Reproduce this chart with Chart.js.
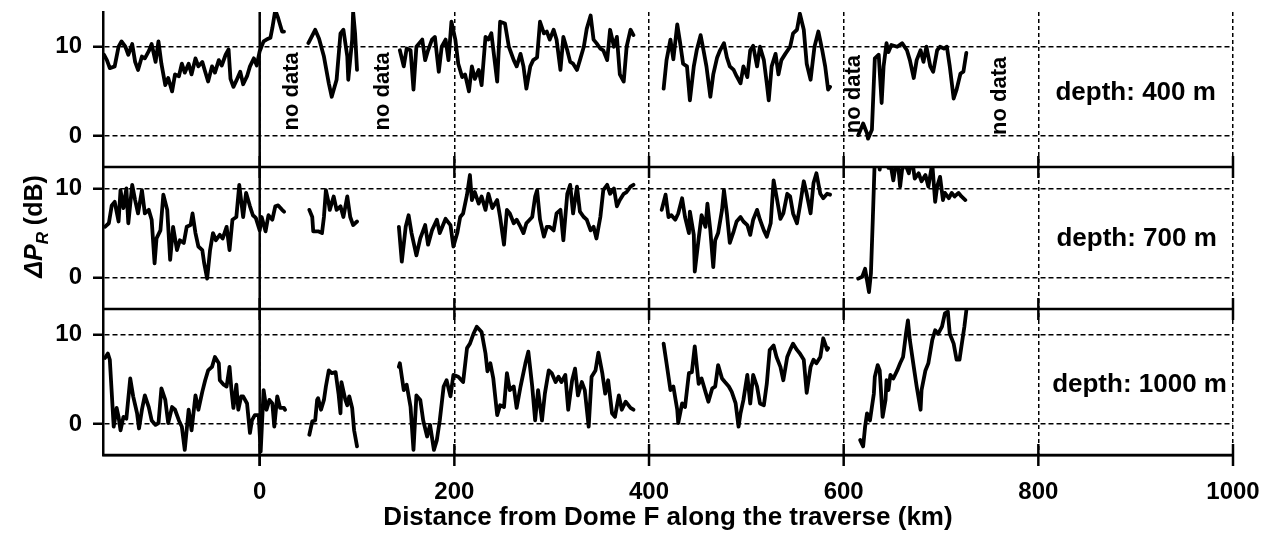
<!DOCTYPE html>
<html>
<head>
<meta charset="utf-8">
<title>Radar power along the Dome F traverse</title>
<script src="https://cdn.jsdelivr.net/npm/chart.js@4.4.1/dist/chart.umd.min.js"></script>
<style>
    html, body { margin: 0; padding: 0; background: #fff; }
    #wrap { width: 1276px; height: 533px; }
</style>
</head>
<body>
<div id="wrap"><canvas id="dprChart" width="1276" height="533"></canvas></div>
<script>
const FONT = '"Liberation Sans", Arial, Helvetica, sans-serif';

// distance (km), ΔP_R (dB); [km, null] marks a data gap
const trace400 = [
    [-160, 9.1], [-157, 8.5], [-154, 7.6], [-149, 7.8], [-145, 10.0], [-142, 10.6], [-138, 10.0], [-135, 9.1],
    [-131, 10.3], [-128, 8.3], [-125, 7.4], [-121, 8.9], [-118, 8.7], [-114, 9.5], [-111, 10.3], [-107, 8.3],
    [-104, 10.6], [-101, 8.1], [-97, 5.7], [-94, 6.5], [-90, 5.0], [-87, 6.9], [-83, 6.7], [-80, 8.1],
    [-77, 7.1], [-73, 8.1], [-70, 6.9], [-66, 8.7], [-63, 7.8], [-59, 8.3], [-56, 7.2], [-53, 6.1],
    [-49, 7.8], [-46, 7.1], [-42, 8.5], [-39, 7.9], [-35, 9.1], [-32, 9.7], [-30, 6.4], [-27, 5.5],
    [-24, 6.2], [-20, 7.2], [-17, 5.8], [-13, 6.7], [-10, 7.8], [-6, 8.7], [-3, 7.9], [0, 9.5],
    [4, 10.6], [7, 10.8], [11, 11.0], [13, 12.1], [16, 14.1], [19, 13.2], [23, 11.7], [25, 11.7],
    [38, null],
    [50, 10.4], [57, 11.9], [61, 10.9], [66, 8.9], [71, 5.9], [74, 4.4], [79, 6.3], [83, 11.5],
    [86, 11.9], [90, 8.9], [91, 6.3], [95, 10.8], [96, 13.9], [98, 11.5], [100, 7.4],
    [122, null],
    [144, 9.6], [148, 7.8], [151, 9.8], [155, 9.6], [158, 5.2], [161, 10.0], [167, 10.8], [170, 8.5],
    [173, 9.6], [177, 10.8], [180, 11.1], [184, 7.2], [187, 10.0], [191, 10.8], [194, 8.5], [197, 12.8],
    [201, 10.8], [204, 8.1], [208, 6.6], [211, 6.9], [215, 5.0], [218, 7.8], [221, 6.4], [225, 7.4],
    [228, 5.7], [232, 11.1], [235, 10.8], [238, 11.5], [244, 6.1], [247, 12.8], [252, 12.6], [256, 10.0],
    [261, 8.5], [264, 7.8], [268, 9.2], [271, 7.8], [274, 5.3], [278, 7.8], [281, 8.5], [285, 8.8],
    [288, 12.8], [292, 11.5], [295, 11.7], [298, 10.8], [302, 11.9], [305, 10.8], [309, 7.4], [312, 11.1],
    [316, 9.6], [319, 8.3], [322, 8.1], [326, 7.4], [329, 8.5], [333, 10.0], [336, 12.0], [340, 13.5],
    [343, 10.8], [346, 10.4], [350, 9.8], [353, 9.6], [357, 8.5], [360, 11.9], [364, 10.0], [367, 11.1],
    [370, 6.9], [374, 6.1], [377, 10.0], [381, 11.9], [384, 11.3],
    [400, null],
    [415, 5.3], [418, 8.5], [422, 10.8], [425, 8.6], [429, 12.5], [432, 10.4], [435, 8.1], [439, 7.8],
    [442, 4.0], [446, 7.8], [449, 9.6], [453, 11.3], [456, 9.6], [459, 7.8], [463, 4.4], [466, 6.9],
    [470, 8.8], [473, 9.6], [477, 10.4], [480, 8.8], [483, 7.8], [487, 7.4], [490, 6.7], [494, 5.9],
    [497, 7.8], [501, 6.6], [504, 9.6], [507, 10.1], [511, 7.8], [514, 10.0], [518, 8.5], [521, 5.9],
    [523, 4.0], [526, 7.8], [530, 9.2], [533, 6.9], [536, 8.5], [540, 9.2], [545, 10.0], [548, 11.5],
    [552, 11.9], [555, 13.7], [559, 11.9], [562, 8.1], [566, 6.3], [570, 10.0], [574, 11.7], [578, 9.6],
    [581, 7.8], [584, 5.2], [586, 5.5],
    [600, null],
    [615, 0.1], [620, 1.4], [624, 0.3], [625, -0.3], [629, 0.7], [632, 8.7], [636, 9.1], [639, 3.7],
    [641, 7.8], [644, 10.4], [646, 9.4], [649, 10.2], [655, 10.0], [660, 10.4], [665, 9.6], [668, 8.5],
    [672, 6.5], [675, 8.5], [679, 9.6], [682, 8.3], [685, 10.0], [689, 7.8], [692, 7.2], [696, 9.6],
    [699, 10.0], [703, 9.8], [706, 10.0], [709, 7.8], [713, 4.2], [716, 5.2], [720, 7.0], [723, 7.2],
    [726, 9.3],
];

const trace700 = [
    [-159, 5.7], [-155, 6.1], [-152, 8.1], [-149, 8.5], [-145, 6.3], [-143, 9.8], [-140, 7.8], [-137, 10.0],
    [-135, 6.1], [-131, 10.4], [-128, 8.7], [-125, 7.2], [-121, 9.8], [-118, 7.2], [-114, 7.6], [-111, 6.5],
    [-108, 1.6], [-106, 4.4], [-102, 5.3], [-99, 9.3], [-95, 7.6], [-92, 2.0], [-89, 5.7], [-85, 3.1],
    [-82, 4.2], [-78, 3.9], [-75, 5.7], [-71, 5.9], [-69, 7.2], [-66, 5.0], [-63, 3.5], [-59, 3.1],
    [-57, 1.6], [-54, -0.1], [-51, 3.1], [-48, 5.0], [-45, 4.2], [-41, 4.8], [-38, 4.4], [-34, 5.7],
    [-31, 3.1], [-28, 6.5], [-24, 6.8], [-21, 10.4], [-17, 6.8], [-14, 9.5], [-10, 8.0], [-7, 7.0],
    [-4, 6.7], [0, 5.3], [2, 6.8], [6, 5.2], [9, 7.0], [13, 6.5], [16, 8.0], [19, 8.1],
    [23, 7.6], [25, 7.4],
    [38, null],
    [51, 7.6], [54, 6.8], [55, 5.2], [60, 5.2], [64, 5.0], [66, 6.8], [68, 9.8], [71, 8.3],
    [72, 7.6], [76, 9.1], [79, 7.6], [83, 8.0], [86, 6.8], [90, 9.1], [93, 6.8], [96, 5.9], [100, 6.3],
    [122, null],
    [143, 5.7], [146, 1.8], [150, 5.7], [153, 7.0], [156, 5.0], [161, 2.5], [165, 4.4], [170, 5.9],
    [173, 3.7], [177, 5.3], [182, 6.5], [185, 5.0], [191, 6.6], [196, 5.9], [199, 3.5], [203, 5.0],
    [206, 6.8], [209, 7.2], [213, 9.3], [216, 11.5], [218, 8.7], [221, 9.6], [225, 8.3], [228, 9.1],
    [232, 7.6], [235, 9.4], [239, 7.8], [244, 8.7], [247, 6.8], [251, 3.7], [254, 7.6], [257, 7.2],
    [261, 6.1], [264, 6.5], [268, 5.7], [271, 5.0], [274, 6.1], [280, 6.8], [283, 9.1], [285, 9.8],
    [288, 6.5], [292, 4.6], [295, 5.7], [298, 5.7], [302, 5.3], [305, 7.2], [309, 7.6], [312, 4.2],
    [316, 9.4], [319, 10.4], [322, 7.2], [326, 10.2], [329, 7.4], [333, 6.8], [336, 6.5], [340, 5.3],
    [343, 5.7], [346, 4.4], [350, 6.8], [353, 9.8], [357, 10.4], [360, 9.4], [364, 10.0], [367, 8.0],
    [370, 8.7], [374, 9.4], [377, 9.6], [381, 10.2], [384, 10.4],
    [400, null],
    [413, 7.6], [417, 9.3], [420, 6.8], [423, 7.0], [427, 6.5], [430, 7.2], [434, 8.9], [437, 6.8],
    [441, 5.0], [442, 7.4], [446, 4.8], [447, 0.7], [451, 4.4], [454, 7.0], [458, 5.7], [460, 8.3],
    [463, 5.3], [466, 1.2], [468, 4.2], [471, 5.0], [475, 7.6], [477, 9.8], [480, 7.2], [483, 3.9],
    [487, 5.2], [490, 6.3], [494, 6.8], [497, 6.3], [501, 5.9], [504, 4.8], [507, 6.5], [511, 7.6],
    [514, 6.5], [518, 5.3], [521, 4.6], [525, 6.1], [528, 10.9], [531, 9.1], [535, 6.6], [538, 7.2],
    [542, 9.4], [545, 9.1], [548, 7.2], [552, 6.1], [555, 8.0], [559, 10.8], [562, 9.4], [566, 7.2],
    [569, 10.6], [572, 11.7], [576, 9.4], [579, 8.9], [583, 9.4], [586, 9.3],
    [600, null],
    [615, -0.1], [619, 0.1], [622, 1.0], [624, -0.3], [626, -1.6], [628, 0.5], [630, 6.8], [632, 13.5],
    [636, 13.7], [637, 12.1], [639, 13.7], [641, 12.6], [644, 13.7], [646, 12.3], [648, 12.8], [651, 10.9],
    [655, 13.7], [658, 10.2], [660, 12.1], [663, 12.8], [667, 11.7], [670, 13.5], [673, 11.1], [677, 11.7],
    [680, 10.8], [684, 11.5], [687, 10.2], [691, 12.8], [694, 8.5], [696, 10.2], [699, 11.3], [702, 8.7],
    [704, 9.5], [708, 8.9], [711, 9.5], [714, 9.1], [718, 9.5], [721, 9.1], [725, 8.7],
];

const trace1000 = [
    [-159, 7.4], [-156, 7.9], [-154, 7.2], [-150, -0.3], [-147, 1.8], [-145, 0.8], [-143, -0.7], [-140, 0.8],
    [-137, 0.6], [-133, 5.1], [-130, 3.1], [-126, 1.2], [-124, -0.5], [-121, 1.6], [-118, 3.2], [-114, 1.9],
    [-111, 0.4], [-107, -0.1], [-104, 0.1], [-101, 4.0], [-97, 2.7], [-94, 0.1], [-90, 1.9], [-87, 1.6],
    [-83, 0.4], [-80, -0.3], [-77, -2.9], [-73, 1.6], [-70, -0.7], [-66, 3.2], [-63, 1.6], [-59, 3.6],
    [-56, 4.9], [-53, 6.0], [-49, 6.4], [-46, 7.5], [-42, 6.8], [-41, 4.9], [-37, 4.4], [-34, 4.2],
    [-31, 6.4], [-29, 3.8], [-27, 1.8], [-24, 4.4], [-22, 1.6], [-19, 3.1], [-17, 3.1], [-13, 2.3],
    [-10, -1.0], [-8, 0.4], [-5, 1.0], [-1, 1.0], [1, -3.1], [4, 3.8], [7, 1.6], [10, 2.7],
    [13, 2.3], [15, -0.3], [18, 3.1], [21, 1.8], [25, 1.8], [26, 1.6],
    [38, null],
    [51, -1.2], [54, 0.3], [57, 0.4], [59, 2.7], [60, 2.9], [63, 1.6], [66, 2.7], [68, 4.2],
    [71, 6.0], [74, 5.7], [78, 5.8], [81, 3.4], [83, 1.2], [84, 4.7], [88, 2.7], [90, 2.1],
    [92, 3.1], [95, 1.8], [97, -0.7], [100, -2.5],
    [122, null],
    [143, 6.4], [144, 6.8], [148, 3.8], [151, 4.4], [155, 1.9], [158, -2.9], [161, 3.2], [165, 2.7],
    [168, 0.4], [172, -1.4], [175, -0.1], [179, -2.9], [182, -1.8], [185, 0.4], [189, 4.2], [192, 4.9],
    [196, 3.1], [199, 5.5], [204, 5.3], [209, 4.7], [213, 8.5], [216, 9.0], [220, 10.2], [223, 10.9],
    [228, 10.3], [232, 7.9], [234, 5.9], [237, 6.8], [240, 5.1], [244, 1.0], [247, 2.1], [251, 1.9],
    [254, 5.7], [257, 3.8], [261, 4.2], [264, 1.8], [268, 4.2], [273, 6.8], [276, 8.1], [280, 4.2],
    [283, 0.4], [286, 3.8], [290, 0.4], [293, 3.4], [297, 6.0], [300, 5.7], [304, 4.7], [307, 5.3],
    [310, 4.7], [314, 5.5], [317, 1.6], [321, 4.9], [324, 6.2], [327, 3.2], [331, 4.7], [334, 3.8],
    [338, -0.3], [341, 5.3], [345, 6.0], [348, 8.0], [352, 5.7], [355, 3.4], [358, 4.9], [362, 1.2],
    [365, 0.8], [369, 3.2], [372, 1.6], [376, 2.5], [381, 1.8], [384, 1.6],
    [400, null],
    [415, 9.0], [418, 6.8], [422, 3.8], [425, 4.2], [429, 1.6], [430, 0.1], [434, 2.3], [437, 1.9],
    [441, 5.7], [444, 5.8], [447, 8.7], [451, 4.5], [454, 5.1], [458, 3.6], [461, 2.5], [465, 4.0],
    [468, 4.2], [471, 6.6], [475, 5.1], [478, 4.7], [482, 4.2], [485, 3.6], [489, 2.3], [492, -0.3],
    [494, 1.2], [497, 2.7], [501, 5.5], [504, 2.3], [507, 5.5], [511, 4.2], [514, 2.3], [518, 2.1],
    [521, 4.5], [524, 8.3], [528, 8.8], [531, 7.5], [535, 6.4], [538, 4.9], [542, 7.5], [545, 8.3],
    [548, 9.0], [552, 8.3], [555, 7.9], [559, 7.2], [562, 3.5], [566, 6.4], [569, 7.2], [572, 6.8],
    [576, 7.5], [579, 9.6], [583, 8.3], [584, 8.5],
    [600, null],
    [617, -1.8], [620, -2.5], [622, -0.3], [624, 1.2], [625, 0.8], [627, 0.4], [629, 1.9], [631, 3.4],
    [632, 5.3], [635, 6.6], [637, 6.0], [640, 0.8], [643, 2.7], [644, 4.9], [646, 3.8], [648, 5.5],
    [651, 5.1], [655, 6.0], [658, 6.8], [661, 7.5], [664, 10.1], [666, 11.6], [668, 9.4], [672, 6.4],
    [675, 4.2], [679, 1.6], [680, 3.8], [684, 6.0], [687, 6.8], [691, 9.4], [694, 10.5], [697, 10.1],
    [701, 10.9], [704, 12.4], [707, 12.6], [709, 10.1], [713, 9.0], [716, 7.2], [719, 7.2], [721, 8.7],
    [724, 10.9], [726, 12.7],
];

const xTicks = [0, 200, 400, 600, 800, 1000];
const yTicks = [0, 10];
const depthAxes = ["y400", "y700", "y1000"];
const depthNames = ["depth: 400 m", "depth: 700 m", "depth: 1000 m"];
const depthLabelKm = [900, 901, 904];
const depthLabelDb = [4.8, 4.4, 4.4];
const noDataKm = [33, 127, 611, 761];
const noDataDb = [5.0, 5.0, 4.7, 4.5];

document.addEventListener("DOMContentLoaded", () => {
    plotRadarChart();
});

function depthAxis(min, max, weight, order) {
    return {
        type: "linear",
        position: "left",
        stack: "depth",
        stackWeight: weight,
        weight: order,
        min: min,
        max: max,
        afterBuildTicks: (scale) => {
            scale.ticks = yTicks.map((v) => ({ value: v }));
        },
        afterFit: (scale) => {
            scale.width = 103;
            scale.paddingTop = 0;
            scale.paddingBottom = 0;
        },
        ticks: {
            color: "#000",
            font: { family: FONT, size: 24, weight: "bold" },
            padding: 11,
            callback: (v) => String(v),
        },
        grid: {
            color: "#000",
            lineWidth: 1.5,
            tickLength: 10,
            tickColor: "#000",
            tickWidth: 2.5,
        },
        border: { display: true, color: "#000", width: 2.5, dash: [5, 3] },
    };
}

const panelFurniture = {
    id: "panelFurniture",
    afterDraw(chart) {
        const ctx = chart.ctx;
        const area = chart.chartArea;
        const x = chart.scales.x;
        ctx.save();
        ctx.strokeStyle = "#000";
        ctx.lineWidth = 2.5;

        // panel separators with tick marks crossing them
        depthAxes.forEach((id) => {
            const yb = chart.scales[id].bottom;
            ctx.beginPath();
            ctx.moveTo(area.left, yb);
            ctx.lineTo(area.right, yb);
            ctx.stroke();
            xTicks.forEach((v) => {
                const px = x.getPixelForValue(v);
                ctx.beginPath();
                ctx.moveTo(px, yb - 11);
                ctx.lineTo(px, yb + 11);
                ctx.stroke();
            });
        });

        // Dome F
        const x0 = x.getPixelForValue(0);
        ctx.beginPath();
        ctx.moveTo(x0, area.top);
        ctx.lineTo(x0, area.bottom + 11);
        ctx.stroke();

        ctx.fillStyle = "#000";
        ctx.textAlign = "center";
        ctx.textBaseline = "middle";

        ctx.font = "bold 22px " + FONT;
        noDataKm.forEach((km, i) => {
            ctx.save();
            ctx.translate(x.getPixelForValue(km), chart.scales.y400.getPixelForValue(noDataDb[i]));
            ctx.rotate(-Math.PI / 2);
            ctx.fillText("no data", 0, 0);
            ctx.restore();
        });

        ctx.font = "bold 26px " + FONT;
        depthNames.forEach((name, i) => {
            const y = chart.scales[depthAxes[i]];
            ctx.fillText(name, x.getPixelForValue(depthLabelKm[i]), y.getPixelForValue(depthLabelDb[i]));
        });

        // y title: ΔP_R (dB)
        const bigIt = "italic bold 25px " + FONT;
        const subIt = "italic bold 17px " + FONT;
        const big = "bold 25px " + FONT;
        ctx.font = bigIt;
        const w1 = ctx.measureText("ΔP").width;
        ctx.font = subIt;
        const w2 = ctx.measureText("R").width;
        ctx.font = big;
        const w3 = ctx.measureText(" (dB)").width;
        const total = w1 + w2 + w3;
        ctx.translate(area.left - 70, (area.top + area.bottom) / 2 - 7);
        ctx.rotate(-Math.PI / 2);
        ctx.textAlign = "left";
        ctx.textBaseline = "alphabetic";
        let cx = -total / 2;
        ctx.font = bigIt;
        ctx.fillText("ΔP", cx, 9);
        cx += w1;
        ctx.font = subIt;
        ctx.fillText("R", cx, 15);
        cx += w2;
        ctx.font = big;
        ctx.fillText(" (dB)", cx, 9);
        ctx.restore();
    },
};

function plotRadarChart() {
    const ctx = document.getElementById("dprChart").getContext("2d");
    const traces = [trace400, trace700, trace1000];

    new Chart(ctx, {
        type: "line",
        data: {
            datasets: traces.map((trace, i) => ({
                label: depthNames[i],
                data: trace.map(([km, db]) => ({ x: km, y: db })),
                yAxisID: depthAxes[i],
                borderColor: "#000",
                borderWidth: 3.8,
                borderJoinStyle: "round",
                borderCapStyle: "round",
                pointRadius: 0,
                tension: 0,
                spanGaps: false,
            })),
        },
        options: {
            responsive: false,
            animation: false,
            events: [],
            layout: { padding: { top: 12, right: 43, left: 0, bottom: 0 } },
            plugins: { legend: { display: false }, tooltip: { enabled: false } },
            scales: {
                x: {
                    type: "linear",
                    position: "bottom",
                    min: -161,
                    max: 1000,
                    afterBuildTicks: (scale) => {
                        scale.ticks = xTicks.map((v) => ({ value: v }));
                    },
                    afterFit: (scale) => {
                        scale.height = 78;
                        scale.paddingLeft = 0;
                        scale.paddingRight = 0;
                    },
                    ticks: {
                        color: "#000",
                        font: { family: FONT, size: 24, weight: "bold" },
                        padding: 23,
                        maxRotation: 0,
                        minRotation: 0,
                        autoSkip: false,
                        callback: (v) => String(v),
                    },
                    grid: {
                        color: "#000",
                        lineWidth: 1.5,
                        drawTicks: false,
                    },
                    border: { display: true, color: "#000", width: 2.5, dash: [4, 3] },
                    title: {
                        display: true,
                        text: "Distance from Dome F along the traverse (km)",
                        color: "#000",
                        font: { family: FONT, size: 26, weight: "bold" },
                        padding: { top: 0, bottom: 0 },
                    },
                },
                y400: depthAxis(-3.47, 13.89, 155, 3),
                y700: depthAxis(-3.5, 12.4, 142, 2),
                y1000: depthAxis(-3.47, 12.88, 146, 1),
            },
        },
        plugins: [panelFurniture],
    });
}
</script>
</body>
</html>
